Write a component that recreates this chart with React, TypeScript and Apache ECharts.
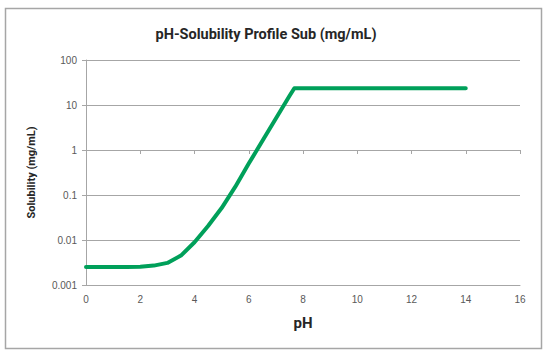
import React, { useEffect, useRef } from "react";
import * as echarts from "echarts";

const phValues = [0, 0.5, 1, 1.5, 2, 2.5, 3, 3.5, 4, 4.5, 5, 5.5, 6, 6.5, 7, 7.5, 7.68, 9, 11, 13, 14];
const solubility = [0.0025, 0.0025, 0.0025, 0.0025, 0.00255, 0.0027, 0.0031, 0.0045, 0.0089, 0.0204, 0.0513, 0.151, 0.501, 1.58, 5.0, 15.8, 23.6, 23.6, 23.6, 23.6, 23.6];
const yTickLabels = ["0.001", "0.01", "0.1", "1", "10", "100"];
const title = "pH-Solubility Profile Sub (mg/mL)";
const xName = "pH";
const yName = "Solubility (mg/mL)";

export default function App() {
  const ref = useRef<HTMLDivElement>(null);
  useEffect(() => {
    if (!ref.current) return;
    const chart = echarts.init(ref.current, null, { renderer: "svg" });
    const grey = "#a6a6a6";
    const labelColor = "#595959";
    const font = "Liberation Sans";
    chart.setOption({
      animation: false,
      backgroundColor: "#ffffff",
      title: {
        text: title,
        left: 261,
        top: 22,
        textAlign: "center",
        textStyle: { fontFamily: "Roboto", fontWeight: "bold", fontSize: 14.5, color: "#262626" },
      },
      grid: { left: 86, right: 30, top: 60, bottom: 72, containLabel: false },
      xAxis: [
        {
          type: "value",
          min: 0,
          max: 16,
          interval: 2,
          name: xName,
          nameLocation: "middle",
          nameGap: 30,
          nameTextStyle: { fontFamily: "Roboto", fontWeight: "bold", fontSize: 15, color: "#262626" },
          axisLine: { show: true, lineStyle: { color: grey, width: 1 } },
          axisTick: { show: false },
          splitLine: { show: false },
          axisLabel: { color: labelColor, fontFamily: font, fontSize: 10, margin: 9 },
        },
        {
          type: "value",
          min: 0,
          max: 16,
          interval: 2,
          position: "bottom",
          offset: -135,
          axisLine: { show: false },
          axisTick: { show: true, length: 4, lineStyle: { color: grey, width: 1 } },
          splitLine: { show: false },
          axisLabel: { show: false },
        },
      ],
      yAxis: {
        type: "log",
        logBase: 10,
        min: 0.001,
        max: 100,
        name: yName,
        nameLocation: "middle",
        nameGap: 49,
        nameRotate: 90,
        nameTextStyle: { fontFamily: "Roboto", fontWeight: "bold", fontSize: 11, color: "#262626" },
        axisLine: { show: true, lineStyle: { color: grey, width: 1 } },
        axisTick: { show: true, length: 4, lineStyle: { color: grey, width: 1 } },
        splitLine: { show: true, lineStyle: { color: grey, width: 1 } },
        axisLabel: {
          color: labelColor,
          fontFamily: font,
          fontSize: 10,
          margin: 9,
          formatter: (_v: number, i: number) => yTickLabels[i] ?? "",
        },
      },
      graphic: [
        {
          type: "rect",
          shape: { x: 5.5, y: 8.5, width: 536, height: 340 },
          style: { fill: "none", stroke: "#a6a6a6", lineWidth: 1.5 },
          silent: true,
        },
      ],
      series: [
        {
          type: "line",
          xAxisIndex: 0,
          data: phValues.map((p, i) => [p, solubility[i]]),
          showSymbol: false,
          smooth: false,
          lineStyle: { color: "#00a05a", width: 4, cap: "round", join: "round" },
        },
      ],
    });
    return () => chart.dispose();
  }, []);
  return <div ref={ref} style={{ position: "absolute", left: 0, top: 0, width: 550, height: 357 }} />;
}
